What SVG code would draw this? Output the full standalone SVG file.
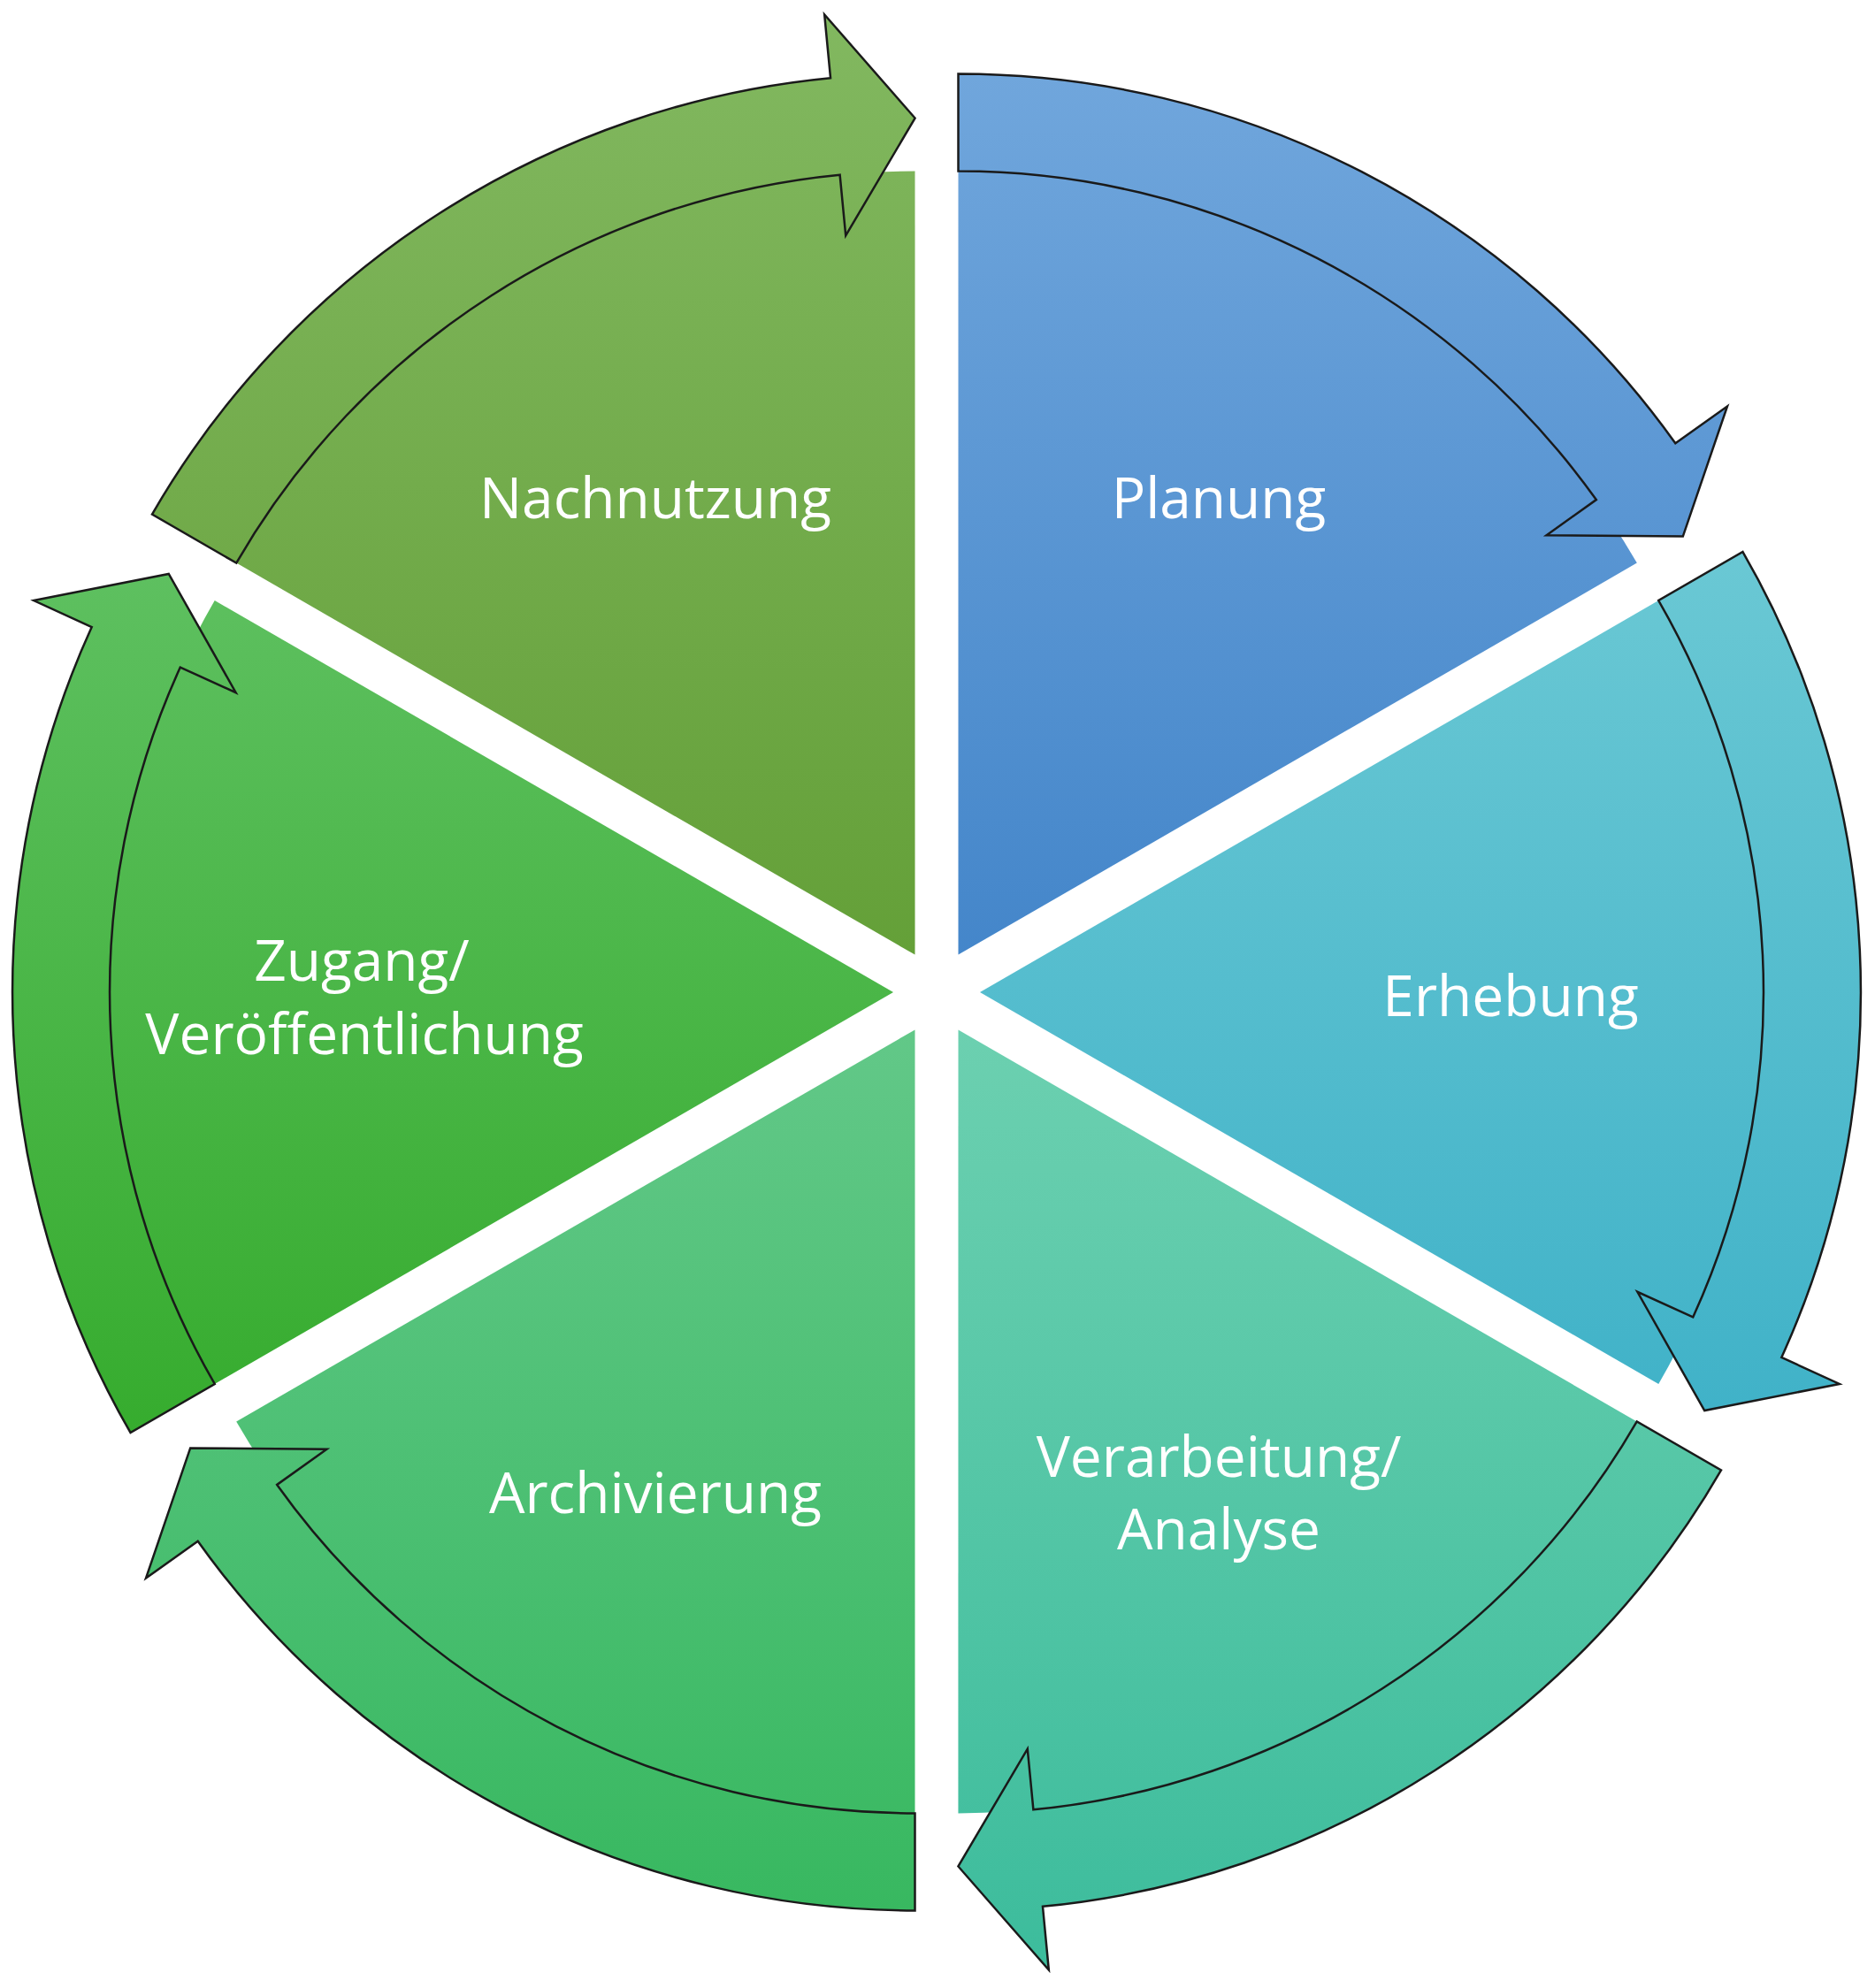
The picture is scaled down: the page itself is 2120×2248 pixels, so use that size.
<svg xmlns="http://www.w3.org/2000/svg" width="2120" height="2248" viewBox="0 0 2120 2248">
<style>
.s{stroke:#1a1a1a;stroke-width:2.5;stroke-linejoin:miter}
.t{font-family:"Open Sans","DejaVu Sans",sans-serif;font-size:64px;fill:#ffffff;text-anchor:middle}
</style>
<defs>
<path id="sec" d="M24.5,-42.4 L24.5,-928.4 A886,886 0 0 1 791.8,-485.4 Z"/>
<path id="arr" d="M24.5,-1038.4 A996,996 0 0 1 835.3,-620.8 L894,-662.6 L843.8,-515.4 L689.6,-516.8 L745.8,-556.9 A886,886 0 0 0 24.5,-928.4 Z"/>
<linearGradient id="g0" gradientUnits="userSpaceOnUse" x1="0" y1="-1040" x2="0" y2="-40"><stop offset="0" stop-color="#70a6dc"/><stop offset="1" stop-color="#4486ca"/></linearGradient>
<linearGradient id="g1" gradientUnits="userSpaceOnUse" x1="0" y1="-500" x2="0" y2="480" gradientTransform="rotate(-60)"><stop offset="0" stop-color="#6ac8d4"/><stop offset="1" stop-color="#40b2c8"/></linearGradient>
<linearGradient id="g2" gradientUnits="userSpaceOnUse" x1="0" y1="40" x2="0" y2="1110" gradientTransform="rotate(-120)"><stop offset="0" stop-color="#6cd0b0"/><stop offset="1" stop-color="#3cbc9c"/></linearGradient>
<linearGradient id="g3" gradientUnits="userSpaceOnUse" x1="0" y1="40" x2="0" y2="1040" gradientTransform="rotate(-180)"><stop offset="0" stop-color="#62c888"/><stop offset="1" stop-color="#38b860"/></linearGradient>
<linearGradient id="g4" gradientUnits="userSpaceOnUse" x1="0" y1="-480" x2="0" y2="500" gradientTransform="rotate(-240)"><stop offset="0" stop-color="#5ec060"/><stop offset="1" stop-color="#36ac2e"/></linearGradient>
<linearGradient id="g5" gradientUnits="userSpaceOnUse" x1="0" y1="-1110" x2="0" y2="-40" gradientTransform="rotate(-300)"><stop offset="0" stop-color="#82b860"/><stop offset="1" stop-color="#64a038"/></linearGradient>
</defs>
<rect width="2120" height="2248" fill="#ffffff"/>
<g id="planung"><use href="#sec" fill="url(#g0)" transform="translate(1059,1122)"/><text class="t" x="1378" y="586">Planung</text></g>
<g id="erhebung"><use href="#sec" fill="url(#g1)" transform="translate(1059,1122) rotate(60)"/><text class="t" x="1708" y="1149">Erhebung</text></g>
<g id="verarbeitung"><use href="#sec" fill="url(#g2)" transform="translate(1059,1122) rotate(120)"/><text class="t" x="1378" y="1670">Verarbeitung/</text><text class="t" x="1378" y="1752">Analyse</text></g>
<g id="archivierung"><use href="#sec" fill="url(#g3)" transform="translate(1059,1122) rotate(180)"/><text class="t" x="741" y="1711">Archivierung</text></g>
<g id="zugang"><use href="#sec" fill="url(#g4)" transform="translate(1059,1122) rotate(240)"/><text class="t" x="409" y="1109">Zugang/</text><text class="t" x="412" y="1192">Veröffentlichung</text></g>
<g id="nachnutzung"><use href="#sec" fill="url(#g5)" transform="translate(1059,1122) rotate(300)"/><text class="t" x="741" y="586">Nachnutzung</text></g>
<g id="connectors" transform="translate(1059,1122)">
<use href="#arr" class="s" fill="url(#g0)"/>
<use href="#arr" class="s" fill="url(#g1)" transform="rotate(60)"/>
<use href="#arr" class="s" fill="url(#g2)" transform="rotate(120)"/>
<use href="#arr" class="s" fill="url(#g3)" transform="rotate(180)"/>
<use href="#arr" class="s" fill="url(#g4)" transform="rotate(240)"/>
<use href="#arr" class="s" fill="url(#g5)" transform="rotate(300)"/>
</g>
</svg>
